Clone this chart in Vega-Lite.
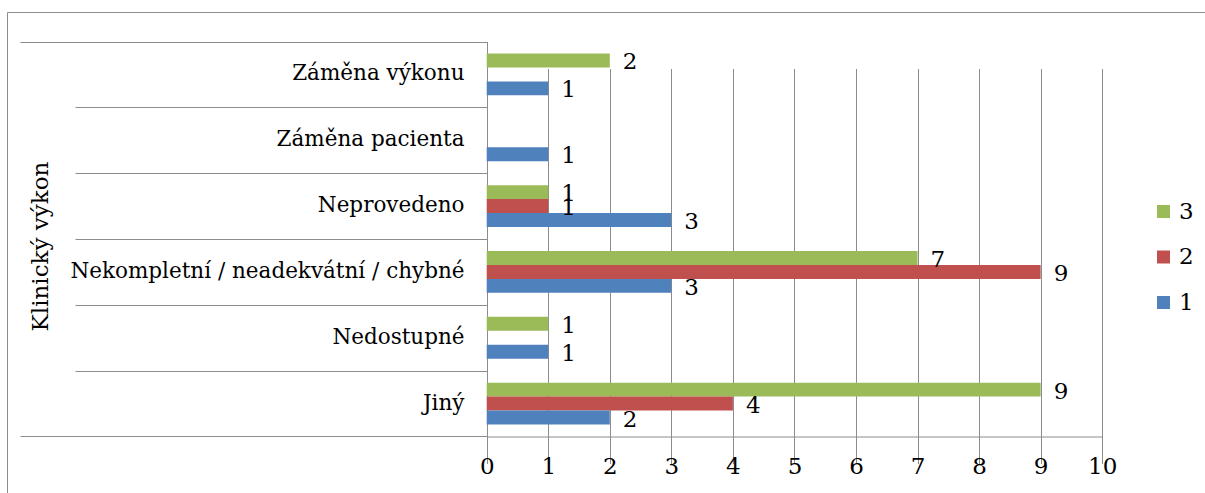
{
  "$schema": "https://vega.github.io/schema/vega-lite/v6.json",
  "width": 1198,
  "height": 481,
  "autosize": "none",
  "padding": {"left": 7, "top": 12, "right": 0, "bottom": 0},
  "background": "white",
  "config": {
    "font": "DejaVu Serif",
    "view": {"stroke": "#8c8c8c", "strokeWidth": 1},
    "axis": {
      "labelFont": "DejaVu Serif",
      "titleFont": "DejaVu Serif",
      "labelColor": "#000000",
      "titleColor": "#000000",
      "titleFontWeight": "normal"
    },
    "legend": {"labelFont": "DejaVu Serif"},
    "text": {"font": "DejaVu Serif"}
  },
  "data": {
    "values": [
      {"kategorie": "Záměna výkonu", "serie": "3", "pocet": 2},
      {"kategorie": "Záměna výkonu", "serie": "1", "pocet": 1},
      {"kategorie": "Záměna pacienta", "serie": "1", "pocet": 1},
      {"kategorie": "Neprovedeno", "serie": "3", "pocet": 1},
      {"kategorie": "Neprovedeno", "serie": "2", "pocet": 1},
      {"kategorie": "Neprovedeno", "serie": "1", "pocet": 3},
      {"kategorie": "Nekompletní / neadekvátní / chybné", "serie": "3", "pocet": 7},
      {"kategorie": "Nekompletní / neadekvátní / chybné", "serie": "2", "pocet": 9},
      {"kategorie": "Nekompletní / neadekvátní / chybné", "serie": "1", "pocet": 3},
      {"kategorie": "Nedostupné", "serie": "3", "pocet": 1},
      {"kategorie": "Nedostupné", "serie": "1", "pocet": 1},
      {"kategorie": "Jiný", "serie": "3", "pocet": 9},
      {"kategorie": "Jiný", "serie": "2", "pocet": 4},
      {"kategorie": "Jiný", "serie": "1", "pocet": 2}
    ]
  },
  "encoding": {
    "yOffset": {
      "field": "serie",
      "type": "nominal",
      "sort": ["3", "2", "1"],
      "scale": {"paddingInner": 0, "paddingOuter": 0.857}
    },
    "x": {
      "field": "pocet",
      "type": "quantitative",
      "scale": {"domain": [0, 10], "range": [479.7, 1095.2], "nice": false, "zero": true},
      "axis": {
        "orient": "bottom",
        "offset": -56.5,
        "title": null,
        "values": [0, 1, 2, 3, 4, 5, 6, 7, 8, 9, 10],
        "grid": true,
        "gridColor": "#8c8c8c",
        "gridWidth": 1,
        "domainColor": "#8c8c8c",
        "tickColor": "#8c8c8c",
        "tickSize": 6,
        "labelFontSize": 23,
        "labelPadding": 13,
        "labelFlush": false
      }
    }
  },
  "layer": [
    {
      "mark": {"type": "bar"},
      "encoding": {
        "y": {
          "field": "kategorie",
          "type": "nominal",
          "sort": ["Záměna výkonu", "Záměna pacienta", "Neprovedeno", "Nekompletní / neadekvátní / chybné", "Nedostupné", "Jiný"],
          "scale": {"range": [29.5, 424.5], "paddingInner": 0, "paddingOuter": 0},
          "axis": {
            "orient": "left",
            "offset": -480,
            "title": "Klinický výkon",
            "titleFontSize": 23,
            "titleAngle": -90,
            "titleAlign": "center",
            "titleBaseline": "middle",
            "titleX": -447,
            "titleY": 234,
            "ticks": false,
            "domain": false,
            "grid": false,
            "labelFontSize": 21.5,
            "labelPadding": 23,
            "labelLimit": 0
          }
        },
        "color": {
          "field": "serie",
          "type": "nominal",
          "scale": {"domain": ["3", "2", "1"], "range": ["#9BBB59", "#C0504D", "#4F81BD"]},
          "legend": {
            "title": null,
            "orient": "none",
            "legendX": 1145,
            "legendY": 188,
            "direction": "vertical",
            "symbolType": "square",
            "symbolSize": 169,
            "symbolStrokeWidth": 0,
            "labelFontSize": 23,
            "labelColor": "#000000",
            "labelOffset": 4,
            "rowPadding": 21.5
          }
        }
      }
    },
    {
      "mark": {"type": "text", "align": "left", "baseline": "middle", "dx": 13, "dy": 2, "fontSize": 23, "color": "#000000"},
      "encoding": {
        "y": {
          "field": "kategorie",
          "type": "nominal",
          "sort": ["Záměna výkonu", "Záměna pacienta", "Neprovedeno", "Nekompletní / neadekvátní / chybné", "Nedostupné", "Jiný"],
          "axis": {
            "orient": "left",
            "offset": -480,
            "title": null,
            "labels": false,
            "grid": false,
            "ticks": true,
            "tickBand": "extent",
            "tickColor": "#8c8c8c",
            "tickSize": {"condition": {"test": "datum.value === 'Jiný' || datum.label === ''", "value": 467}, "value": 412},
            "domain": true,
            "domainColor": "#8c8c8c"
          }
        },
        "text": {"field": "pocet", "type": "quantitative"}
      }
    }
  ],
  "resolve": {"axis": {"y": "independent"}}
}
